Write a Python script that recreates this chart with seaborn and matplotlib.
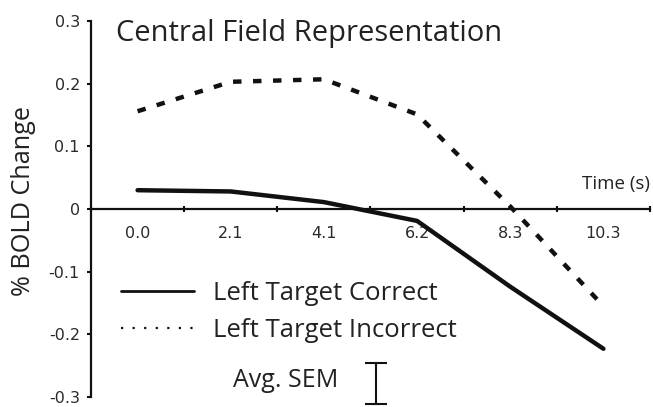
import matplotlib
matplotlib.use("Agg")
import matplotlib.pyplot as plt
from matplotlib.lines import Line2D
import numpy as np
import pandas as pd
import seaborn as sns

# Time points (s) and mean % BOLD change per condition
time_labels = ["0.0", "2.1", "4.1", "6.2", "8.3", "10.3"]
correct = [0.030, 0.028, 0.011, -0.019, -0.124, -0.223]
incorrect = [0.156, 0.203, 0.207, 0.151, 0.004, -0.155]
avg_sem = 0.033

sns.set_theme(style="white")
plt.rcParams["font.family"] = ["DejaVu Sans"]

pos = np.arange(len(time_labels))
df = pd.DataFrame({
    "pos": np.concatenate([pos, pos]),
    "bold": correct + incorrect,
    "cond": ["Left Target Correct"] * len(pos) + ["Left Target Incorrect"] * len(pos),
})

fig = plt.figure(figsize=(6.53, 4.07), dpi=100)
ax = fig.add_axes([91 / 653, 1 - 397 / 407, (650 - 91) / 653, (397 - 21) / 407])

sns.lineplot(data=df[df.cond == "Left Target Correct"], x="pos", y="bold",
             color="#111111", lw=3.2, ax=ax, legend=False)
sns.lineplot(data=df[df.cond == "Left Target Incorrect"], x="pos", y="bold",
             color="#111111", lw=3.2, ax=ax, legend=False)
ax.lines[1].set_dashes((1.9, 2.6))
ax.lines[1].set_dash_capstyle("butt")

ax.set_xlim(-0.5, len(pos) - 0.5)
ax.set_ylim(-0.3, 0.3)

# axes: y axis at left edge, x axis through zero
for s in ["top", "right"]:
    ax.spines[s].set_visible(False)
ax.spines["bottom"].set_position(("data", 0))
for s in ["left", "bottom"]:
    ax.spines[s].set_color("#111111")
    ax.spines[s].set_linewidth(1.6)

ax.set_yticks([-0.3, -0.2, -0.1, 0, 0.1, 0.2, 0.3])
ax.set_yticklabels(["-0.3", "-0.2", "-0.1", "0", "0.1", "0.2", "0.3"])
ax.tick_params(axis="y", direction="out", length=3, width=1.5, color="#111111",
               labelsize=11.5, labelcolor="#2a2a2a", pad=5, left=True)

# tick marks at bin edges, labels at bin centres
ax.set_xticks(np.arange(len(pos) + 1) - 0.5)
ax.set_xticklabels([""] * (len(pos) + 1))
ax.set_xticks(pos, minor=True)
ax.set_xticklabels(time_labels, minor=True)
ax.tick_params(axis="x", which="major", direction="inout", length=5, width=1.5,
               color="#111111", bottom=True)
ax.tick_params(axis="x", which="minor", length=0, labelsize=11.5,
               labelcolor="#2a2a2a", pad=12)

ax.set_xlabel("")
ax.set_ylabel("% BOLD Change", family="Open Sans", fontsize=18.2, color="#222222")
ax.yaxis.set_label_coords(-55 / 559, (397 - 201) / 376)

ax.text(0.045, 0.968, "Central Field Representation", transform=ax.transAxes,
        family="Open Sans", fontsize=21, color="#222222", va="center", ha="left")
ax.text(1.0, 0.567, "Time (s)", transform=ax.transAxes,
        family="Open Sans", fontsize=13.5, color="#222222", ha="right", va="center")

handles = [Line2D([], [], color="#111111", lw=2.0),
           Line2D([], [], color="#111111", lw=1.6, ls=(0, (1, 4.2)))]
leg = ax.legend(handles, ["Left Target Correct", "Left Target Incorrect"],
                loc="upper left", bbox_to_anchor=(0.012, 0.37), frameon=False,
                handlelength=2.84, handletextpad=0.74, labelspacing=0.45,
                prop={"family": "Open Sans", "size": 18.5})
for t in leg.get_texts():
    t.set_color("#222222")

# average standard error bar
ax.text(0.254, 0.045, "Avg. SEM", transform=ax.transAxes, family="Open Sans",
        fontsize=18, color="#222222", ha="left", va="center")
ax.errorbar([2.559], [-0.278], yerr=[avg_sem], fmt="none", ecolor="#111111",
            elinewidth=1.5, capsize=7.9, capthick=1.5, clip_on=False)

fig.savefig("out.png", dpi=100)
